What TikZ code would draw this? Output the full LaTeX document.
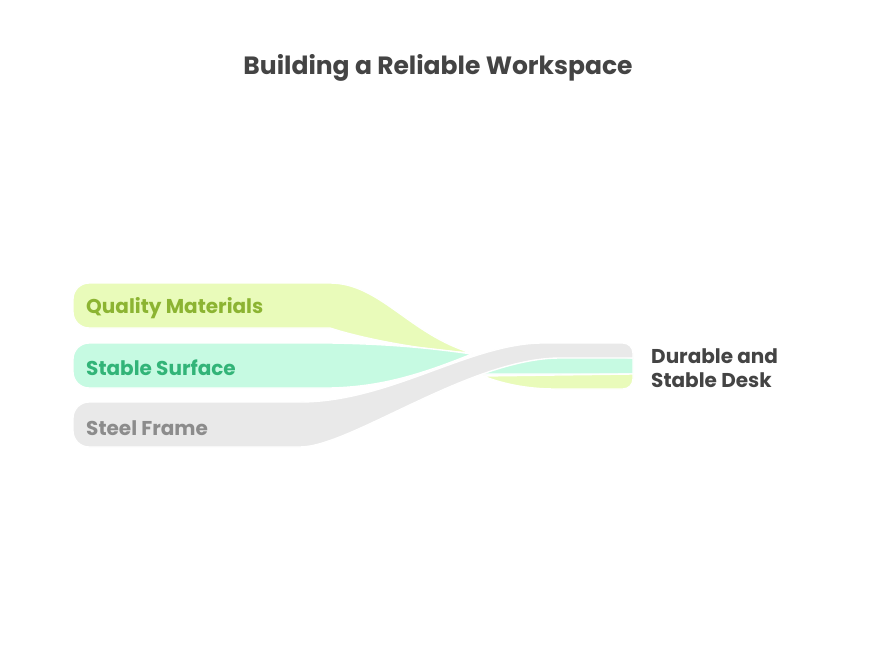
\documentclass[tikz,border=0pt]{standalone}
\usepackage{fontspec}
\setmainfont{Poppins}
\usepackage{tikz}
\usetikzlibrary{positioning}

\definecolor{qmfill}{RGB}{233,251,186}
\definecolor{qmtext}{RGB}{140,180,50}
\definecolor{ssfill}{RGB}{198,250,226}
\definecolor{sstext}{RGB}{50,180,120}
\definecolor{sffill}{RGB}{233,233,233}
\definecolor{sftext}{RGB}{140,140,140}
\definecolor{inktext}{RGB}{68,68,68}

\begin{document}
\begin{tikzpicture}[x=1pt,y=-1pt,
		band/.style={draw=white, line width=1.4pt, line join=round},
		lbl/.style={anchor=west, inner sep=0pt, font=\fontsize{20}{24}\selectfont\bfseries}]
			
			\useasboundingbox[fill=white] (0,0) rectangle (877,660);
			
			% quality materials, left part
			\filldraw[band, fill=qmfill] (89,283) -- (330,283) .. controls (380,283) and (410,335) .. (472,353)
				.. controls (420,350) and (360,338) .. (330,328) -- (89,328)
				.. controls (80.2,328) and (73,320.8) .. (73,312) -- (73,299)
				.. controls (73,290.2) and (80.2,283) .. (89,283) -- cycle;
			% stable surface, left part
			\filldraw[band, fill=ssfill] (89,343) -- (330,343) .. controls (390,344) and (430,348) .. (472,354)
				.. controls (420,375) and (380,387) .. (330,388) -- (89,388)
				.. controls (80.2,388) and (73,380.8) .. (73,372) -- (73,359)
				.. controls (73,350.2) and (80.2,343) .. (89,343) -- cycle;
			
			% right parts (under the frame)
			\filldraw[band, fill=ssfill] (478,374) -- (633,374) -- (633,358) -- (540,350) -- (478,360) -- cycle;
			\filldraw[band, fill=qmfill] (483,376) -- (633,374) -- (633,379)
				.. controls (633,384.5) and (628.5,389) .. (623,389) -- (555,389)
				.. controls (525,389) and (500,383) .. (483,376) -- cycle;
			
			% steel frame on top
			\filldraw[band, fill=sffill] (89,402) -- (300,402) .. controls (390,402) and (470,343) .. (543,343)
				-- (623,343) .. controls (628.5,343) and (633,347.5) .. (633,353) -- (633,358) -- (560,358)
				.. controls (470,358) and (350,447) .. (300,447) -- (89,447)
				.. controls (80.2,447) and (73,439.8) .. (73,431) -- (73,418)
				.. controls (73,409.2) and (80.2,402) .. (89,402) -- cycle;
			
			% labels
			\node[lbl, text=qmtext] (qm) at (86,308) {Quality Materials};
			\node[lbl, text=sstext] (ss) at (86,368) {Stable Surface};
			\node[lbl, text=sftext] (sf) at (86,428) {Steel Frame};
			\node[lbl, text=inktext, align=left, font=\fontsize{20}{24}\selectfont\bfseries] (desk) at (651,368) {Durable and\\Stable Desk};
			
			\node[text=inktext, font=\fontsize{25}{30}\selectfont\bfseries] (title) at (438,68) {Building a Reliable Workspace};
		\end{tikzpicture}
\end{document}
